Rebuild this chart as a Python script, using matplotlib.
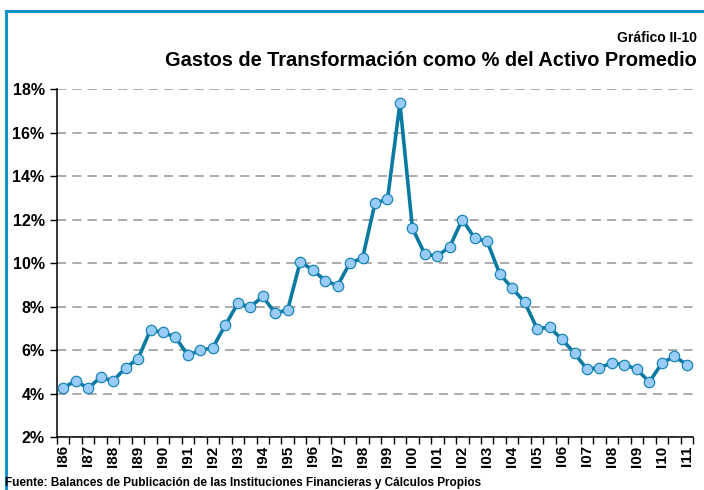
import matplotlib
matplotlib.use("Agg")
import matplotlib.pyplot as plt
from matplotlib.lines import Line2D
import numpy as np

plt.rcParams['font.family'] = ['Liberation Sans', 'DejaVu Sans']

years = ["86", "87", "88", "89", "90", "91", "92", "93", "94", "95", "96", "97", "98",
         "99", "00", "01", "02", "03", "04", "05", "06", "07", "08", "09", "10", "11"]
tick_labels = ["I" + y for y in years]

values = [4.26, 4.58, 4.24, 4.75, 4.58, 5.18, 5.60, 6.93, 6.81, 6.58,
          5.76, 5.98, 6.11, 7.15, 8.14, 7.98, 8.46, 7.69, 7.85, 10.05,
          9.69, 9.19, 8.96, 10.02, 10.21, 12.76, 12.92, 17.34, 11.60, 10.40,
          10.32, 10.75, 12.00, 11.13, 10.99, 9.50, 8.84, 8.20, 6.98, 7.04,
          6.49, 5.85, 5.11, 5.19, 5.40, 5.33, 5.11, 4.53, 5.39, 5.71, 5.33]

title_small = "Gráfico II-10"
title_main = "Gastos de Transformación como % del Activo Promedio"
source = "Fuente: Balances de Publicación de las Instituciones Financieras y Cálculos Propios"

fig = plt.figure(figsize=(7.04, 4.90), dpi=100)
ax = fig.add_axes([57/704, 53/490, 636/704, 348/490])

x = np.arange(len(values))
ax.plot(x, values, color="#0a7aa3", lw=2.6, marker="o", markersize=7.5,
        markerfacecolor="#99ccfa", markeredgecolor="#1a85b5", markeredgewidth=0.9,
        zorder=3, clip_on=False)

ax.set_xlim(-0.5, len(values) - 0.5)
ax.set_ylim(2, 18)
yt = np.arange(2, 19, 2)
ax.set_yticks(yt)
ax.set_yticklabels([f"{v}%" for v in yt], fontsize=11.5, fontweight="bold")
ax.yaxis.grid(True, color="#959595", linestyle=(0, (6, 4)), lw=1.1)
ax.set_axisbelow(True)

# category boundaries as ticks
ax.set_xticks(np.arange(-0.5, len(values) + 0.5, 1), minor=True)
ax.set_xticks(np.arange(0, len(values), 2))
ax.set_xticklabels(tick_labels, rotation=90, fontsize=11, fontweight="bold")
ax.tick_params(axis="x", which="major", length=0, pad=6)
ax.tick_params(axis="x", which="minor", length=5, width=1, direction="out")
ax.tick_params(axis="y", length=5, width=1, direction="out", pad=4)

for s in ["top", "right"]:
    ax.spines[s].set_visible(False)
ax.spines["left"].set_linewidth(1.1)
ax.spines["bottom"].set_linewidth(1.1)

fig.text(697/704, 1 - 38/490, title_small, ha="right", va="center",
         fontsize=10, fontweight="bold")
fig.text(697/704, 1 - 60/490, title_main, ha="right", va="center",
         fontsize=14.4, fontweight="bold")
fig.text(5/704, 1 - 483/490, source, ha="left", va="center",
         fontsize=8.5, fontweight="bold")

frame_color = "#1593c6"
fig.add_artist(Line2D([5.5/704, 5.5/704], [0, 1 - 11/490], color=frame_color, lw=2.2,
                      transform=fig.transFigure, solid_capstyle="projecting"))
fig.add_artist(Line2D([5.5/704, 1], [1 - 11/490, 1 - 11/490], color=frame_color, lw=2.2,
                      transform=fig.transFigure, solid_capstyle="projecting"))

fig.savefig("out.png", dpi=100)
